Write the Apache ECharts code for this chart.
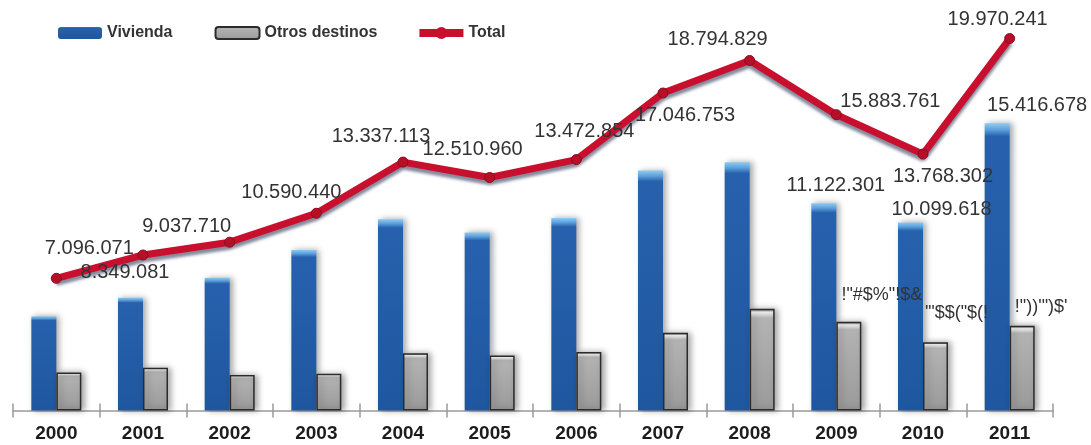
<!DOCTYPE html>
<html>
<head>
<meta charset="utf-8">
<script src="https://cdn.jsdelivr.net/npm/echarts@6/dist/echarts.min.js"></script>
<style>
html,body{margin:0;padding:0;background:#fff;}
#c{width:1091px;height:445px;}
</style>
</head>
<body>
<div id="c"></div>
<script>
// ---- data ----
const categories = ['2000','2001','2002','2003','2004','2005','2006','2007','2008','2009','2010','2011'];
const vivienda = [5060000, 6060000, 7130000, 8620000, 10270000, 9560000, 10330000, 12880000, 13330000, 11122301, 10099618, 15416678];
const otros = [2040000, 2290000, 1910000, 1970000, 3070000, 2950000, 3140000, 4170000, 5460000, 4761460, 3668684, 4553563];
const total = [7096071, 8349081, 9037710, 10590440, 13337113, 12510960, 13472854, 17046753, 18794829, 15883761, 13768302, 19970241];
// labels as printed in the source (only some bars are labelled; otros labels appear in a symbol encoding)
const viviendaLabels = [null,null,null,null,null,null,null,null,null,'11.122.301','10.099.618','15.416.678'];
const otrosLabels = [null,null,null,null,null,null,null,null,null,'!"#$%"!$&','\'"$$("$(!','!"))\'")$\''];

// ---- label placement (layout only) ----
const totalLabelOffsets = [[33,-30],[-18,17],[-43,-16],[-25,-21],[-22,-26],[-17,-28],[8,-28],[22,22],[-32,-21],[54,-13],[20,22],[-12,-19]];
const viviendaLabelOffsets = {9:[12,-8],10:[31,-3],11:[40,-8]};
const otrosLabelOffsets = {9:[33,-17],10:[21,-19],11:[19,-9]};

const FONT = "'Liberation Sans', Arial, sans-serif";
const fmt = v => String(v).replace(/\B(?=(\d{3})+(?!\d))/g, '.');

const blueFill = {type:'linear',x:0,y:0,x2:0,y2:1,colorStops:[
  {offset:0,color:'#8fcaf2'},{offset:0.022,color:'#5da2dc'},{offset:0.045,color:'#2761ad'},{offset:1,color:'#1f579f'}]};
const grayFill = {type:'linear',x:0,y:0,x2:0,y2:1,colorStops:[
  {offset:0,color:'#6d6d6d'},{offset:0.035,color:'#f4f4f4'},{offset:0.09,color:'#b3b3b3'},{offset:1,color:'#9a9a9a'}]};

const labelStyle = {fontFamily:FONT,fontSize:20,lineHeight:20,color:'#333333'};

const vivData = vivienda.map((v,i)=>{
  const d = {value:v};
  if (viviendaLabels[i]) {
    d.label = Object.assign({show:true,position:'top',distance:0,offset:viviendaLabelOffsets[i],formatter:viviendaLabels[i]},labelStyle);
  }
  return d;
});
const otrosData = otros.map((v,i)=>{
  const d = {value:v};
  if (otrosLabels[i]) {
    d.label = Object.assign({show:true,position:'top',distance:0,offset:otrosLabelOffsets[i],formatter:otrosLabels[i]},labelStyle,{fontSize:18});
  }
  return d;
});
const totalData = total.map((v,i)=>({
  value:v,
  label:Object.assign({show:true,position:'inside',offset:totalLabelOffsets[i],formatter:fmt(v)},labelStyle)
}));

const lineIcon = 'path://M0,2 L44,2 L44,10 L0,10 Z M16,6 A6,6 0 1 1 28,6 A6,6 0 1 1 16,6 Z';

const chart = echarts.init(document.getElementById('c'), null, {renderer:'canvas'});
chart.setOption({
  animation:false,
  backgroundColor:'#ffffff',
  legend:{
    left:53, top:20,
    itemWidth:44, itemHeight:12, itemGap:42,
    textStyle:{fontFamily:FONT,fontSize:16,fontWeight:'bold',color:'#333'},
    data:['Vivienda','Otros destinos',{name:'Total',icon:lineIcon,itemStyle:{color:'#c8102e',borderWidth:0}}]
  },
  grid:{left:13,right:38,top:38,bottom:34.5,containLabel:false},
  xAxis:[{
    type:'category',data:categories,
    axisLine:{show:true,lineStyle:{color:'#9a9a9a',width:1.5}},
    axisTick:{show:true,length:7,lineStyle:{color:'#9a9a9a',width:1.5}},
    axisLabel:{fontFamily:FONT,fontSize:19,fontWeight:'bold',color:'#1c1c1c',margin:14},
    splitLine:{show:false}
  },{
    type:'category',data:categories,position:'bottom',
    axisLine:{show:false},
    axisTick:{show:true,inside:true,length:7,lineStyle:{color:'#9a9a9a',width:1.5}},
    axisLabel:{show:false},splitLine:{show:false}
  }],
  yAxis:{type:'value',min:0,max:20000000,show:false,splitLine:{show:false}},
  series:[
    {name:'Vivienda',type:'bar',xAxisIndex:0,data:vivData,barWidth:25,barGap:'0%',
      itemStyle:{color:blueFill,shadowBlur:6,shadowColor:'rgba(0,0,0,0.35)',shadowOffsetX:3}},
    {name:'Otros destinos',type:'bar',xAxisIndex:0,data:otrosData,barWidth:25,barGap:'0%',
      itemStyle:{color:grayFill,borderColor:'#2b2b2b',borderWidth:1.5,shadowBlur:6,shadowColor:'rgba(0,0,0,0.35)',shadowOffsetX:3}},
    {name:'Total',type:'line',xAxisIndex:0,data:totalData,z:5,
      symbol:'circle',symbolSize:10,
      lineStyle:{color:'#c8102e',width:7,shadowColor:'rgba(50,60,90,0.6)',shadowBlur:3,shadowOffsetY:4},
      itemStyle:{color:'#b80f29',borderColor:'#8c0a1e',borderWidth:1}}
  ]
});
</script>
</body>
</html>
